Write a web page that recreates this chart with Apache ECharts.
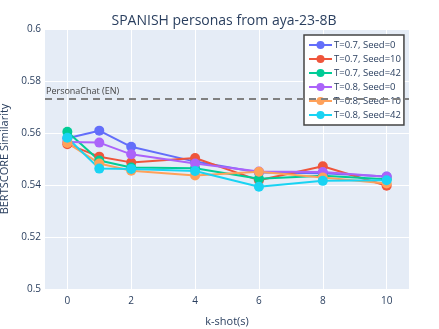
<!DOCTYPE html>
<html>
<head>
<meta charset="utf-8">
<script src="https://cdn.jsdelivr.net/npm/echarts@6/dist/echarts.min.js"></script>
<style>html,body{margin:0;padding:0;background:#fff;}#c{width:439px;height:329px;}</style>
</head>
<body>
<div id="c"></div>
<script>
var kShots = [0, 1, 2, 4, 6, 8, 10];
var xTicks = [0, 2, 4, 6, 8, 10];
var seriesNames = ['T=0.7, Seed=0', 'T=0.7, Seed=10', 'T=0.7, Seed=42', 'T=0.8, Seed=0', 'T=0.8, Seed=10', 'T=0.8, Seed=42'];
var t07s0  = [0.5580, 0.5609, 0.5547, 0.5490, 0.5448, 0.5445, 0.5433];
var t07s10 = [0.5557, 0.5509, 0.5487, 0.5504, 0.5418, 0.5472, 0.5397];
var t07s42 = [0.5605, 0.5494, 0.5467, 0.5464, 0.5424, 0.5436, 0.5422];
var t08s0  = [0.5565, 0.5563, 0.5518, 0.5483, 0.5452, 0.5450, 0.5432];
var t08s10 = [0.5562, 0.5483, 0.5455, 0.5437, 0.5451, 0.5429, 0.5406];
var t08s42 = [0.5582, 0.5463, 0.5462, 0.5454, 0.5393, 0.5416, 0.5418];
var baselineLabel = 'PersonaChat (EN)';
var baselineValue = 0.573;

var allValues = [t07s0, t07s10, t07s42, t08s0, t08s10, t08s42];
var colors = ['#636efa', '#EF553B', '#00cc96', '#ab63fa', '#FFA15A', '#19d3f3'];
var font = '"Open Sans", "Noto Sans", sans-serif';
var textColor = '#2a3f5f';

var series = allValues.map(function (vals, i) {
  var s = {
    name: seriesNames[i],
    type: 'line',
    data: vals.map(function (v, j) { return [kShots[j], v]; }),
    symbol: 'circle',
    symbolSize: 10,
    lineStyle: { width: 2, color: colors[i] },
    itemStyle: { color: colors[i] },
    emphasis: { disabled: true },
    animation: false
  };
  if (i === 0) {
    s.markLine = {
      silent: true,
      symbol: 'none',
      animation: false,
      precision: 4,
      lineStyle: { type: [7, 5], color: '#808080', width: 2 },
      label: { show: true, position: 'insideStartTop', formatter: baselineLabel, color: '#444', fontSize: 9, fontFamily: font, distance: [1, 3] },
      data: [{ yAxis: baselineValue }]
    };
  }
  return s;
});

var chart = echarts.init(document.getElementById('c'));
chart.setOption({
  animation: false,
  backgroundColor: '#fff',
  title: {
    text: 'SPANISH personas from aya-23-8B',
    left: 219, textAlign: 'center', top: 9,
    textStyle: { fontFamily: font, fontSize: 14, fontWeight: 'normal', color: textColor }
  },
  legend: {
    orient: 'vertical',
    left: 304, top: 35,
    padding: [5, 3, 5, 4],
    itemWidth: 23, itemHeight: 10, itemGap: 4,
    backgroundColor: '#fff',
    borderColor: '#444', borderWidth: 1.5,
    textStyle: { fontFamily: font, fontSize: 9.5, color: textColor, padding: [0, 0, 0, -3] },
    data: seriesNames
  },
  grid: { left: 45, top: 29, right: 30, bottom: 40, outerBoundsMode: 'none', containLabel: false, backgroundColor: '#E5ECF6', show: true, borderWidth: 0 },
  xAxis: {
    type: 'value', min: -0.7, max: 10.7,
    name: 'k-shot(s)', nameLocation: 'middle', nameGap: 27,
    nameTextStyle: { fontFamily: font, fontSize: 11, color: textColor },
    axisLine: { show: false }, axisTick: { show: false, customValues: xTicks },
    axisLabel: { customValues: xTicks, fontFamily: font, fontSize: 10, color: textColor, margin: 7 },
    splitLine: { show: true, lineStyle: { color: '#fff', width: 1 } }
  },
  yAxis: {
    type: 'value', min: 0.5, max: 0.6, interval: 0.02,
    name: 'BERTSCORE Similarity', nameLocation: 'middle', nameGap: 27,
    nameTextStyle: { fontFamily: font, fontSize: 11, color: textColor },
    axisLine: { show: false }, axisTick: { show: false },
    axisLabel: { fontFamily: font, fontSize: 10, color: textColor, margin: 4 },
    splitLine: { show: true, lineStyle: { color: '#fff', width: 1 } }
  },
  series: series
});
</script>
</body>
</html>
